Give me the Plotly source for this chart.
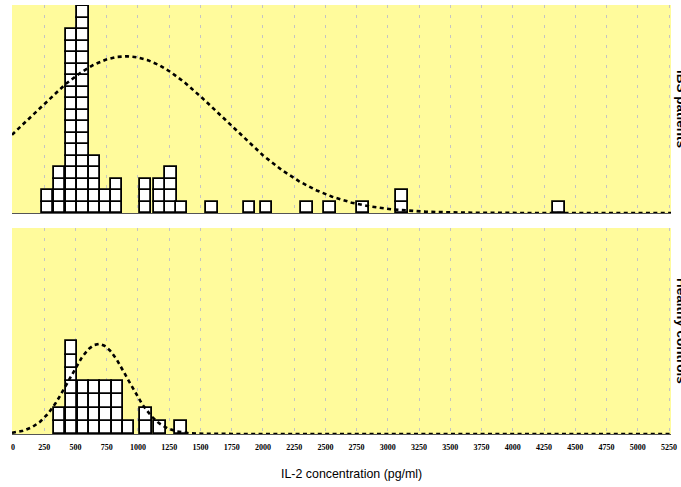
import numpy as np
import plotly.graph_objects as go

# ---- data ----
# IBS patients: dot-stack positions (pg/ml) and number of stacked dots
ibs_centers = [276, 374, 468, 562, 652, 740, 827, 1062, 1175, 1266, 1350,
               1593, 1893, 2030, 2351, 2535, 2800, 3112, 4370]
ibs_counts = [2, 4, 16, 18, 5, 2, 3, 3, 3, 4, 1,
              1, 1, 1, 1, 1, 1, 2, 1]
# Healthy controls
hc_centers = [374, 468, 563, 652, 743, 835, 923, 1063, 1176, 1343]
hc_counts = [2, 7, 4, 4, 4, 4, 1, 2, 1, 1]

tick_values = list(range(0, 5251, 250))
tick_labels = [str(v) for v in tick_values]

# fitted normal curves (mean, sd, peak height in dot units)
ibs_curve_mean, ibs_curve_sd, ibs_curve_peak = 905, 775, 13.65
hc_curve_mean, hc_curve_sd, hc_curve_peak = 685, 235, 6.8

bin_width = 92
x_range = [-8, 5266]

BG = "#FFFB9C"
GRID = "#C4C4C4"
TICKFONT = dict(family="Liberation Sans Narrow", size=8, color="#000000",
                weight="bold")


def stack(centers, counts):
    xs, bases = [], []
    for c, n in zip(centers, counts):
        for k in range(n):
            xs.append(c)
            bases.append(k)
    return xs, bases


def normal_curve(mean, sd, peak):
    xs = np.linspace(x_range[0], x_range[1], 600)
    ys = peak * np.exp(-0.5 * ((xs - mean) / sd) ** 2)
    return xs, ys


fig = go.Figure()

for (centers, counts, xa, ya) in [(ibs_centers, ibs_counts, "x2", "y2"),
                                  (hc_centers, hc_counts, "x", "y")]:
    xs, bases = stack(centers, counts)
    fig.add_trace(go.Bar(
        x=xs, y=[1] * len(xs), base=bases, width=bin_width,
        marker=dict(color="white", line=dict(color="black", width=1.8)),
        xaxis=xa, yaxis=ya, showlegend=False, hoverinfo="skip"))

for (m, s, p, xa, ya) in [(ibs_curve_mean, ibs_curve_sd, ibs_curve_peak, "x2", "y2"),
                          (hc_curve_mean, hc_curve_sd, hc_curve_peak, "x", "y")]:
    cx, cy = normal_curve(m, s, p)
    fig.add_trace(go.Scatter(
        x=cx, y=cy, mode="lines",
        line=dict(color="black", width=2.6, dash="4px,3.4px"),
        xaxis=xa, yaxis=ya, showlegend=False, hoverinfo="skip"))

H_PLOT = 429.0
common_x = dict(range=x_range, showgrid=True, gridcolor=GRID, gridwidth=1,
                griddash="3px,7px", zeroline=False, showline=True,
                linecolor="#555555", linewidth=1, tickvals=tick_values,
                ticktext=tick_labels, fixedrange=True)

fig.update_layout(
    width=681, height=487,
    margin=dict(l=12, r=10, t=5, b=53),
    paper_bgcolor="white", plot_bgcolor=BG,
    barmode="overlay", bargap=0,
    xaxis=dict(**common_x, anchor="y", domain=[0, 1], ticks="outside",
               ticklen=5, tickcolor="rgba(0,0,0,0)", tickfont=TICKFONT),
    xaxis2=dict(**common_x, anchor="y2", domain=[0, 1], matches="x",
                showticklabels=False, ticks=""),
    yaxis=dict(domain=[0, 206 / H_PLOT], range=[0, 15.57], showgrid=False,
               zeroline=False, showticklabels=False, ticks="", showline=False,
               fixedrange=True),
    yaxis2=dict(domain=[221 / H_PLOT, 1], range=[0, 18.12], showgrid=False,
                zeroline=False, showticklabels=False, ticks="", showline=False,
                fixedrange=True),
    font=dict(family="Liberation Sans, Arial, sans-serif", color="#000000"),
)

annotations = [
    dict(text="IL-2 concentration (pg/ml)", xref="paper", yref="paper",
         x=(351 - 12) / 659, y=(434 - 474) / H_PLOT, xanchor="center",
         yanchor="middle", showarrow=False,
         font=dict(family="Liberation Sans, Arial, sans-serif", size=12.4,
                   color="#000000")),
    dict(text="<b>IBS patients</b>", xref="paper", yref="paper",
         x=(682 - 12) / 659, y=(434 - 109) / H_PLOT, xanchor="center",
         yanchor="middle", textangle=90, showarrow=False,
         font=dict(family="Liberation Sans, Arial, sans-serif", size=13.5,
                   color="#000000")),
    dict(text="<b>Healthy controls</b>", xref="paper", yref="paper",
         x=(682 - 12) / 659, y=(434 - 331) / H_PLOT, xanchor="center",
         yanchor="middle", textangle=90, showarrow=False,
         font=dict(family="Liberation Sans, Arial, sans-serif", size=13.5,
                   color="#000000")),
]
fig.update_layout(annotations=annotations)

fig.write_html("out.html",
               config={"displayModeBar": False},
               post_script="document.body.style.margin='0';"
                           "document.body.style.overflow='hidden';")
